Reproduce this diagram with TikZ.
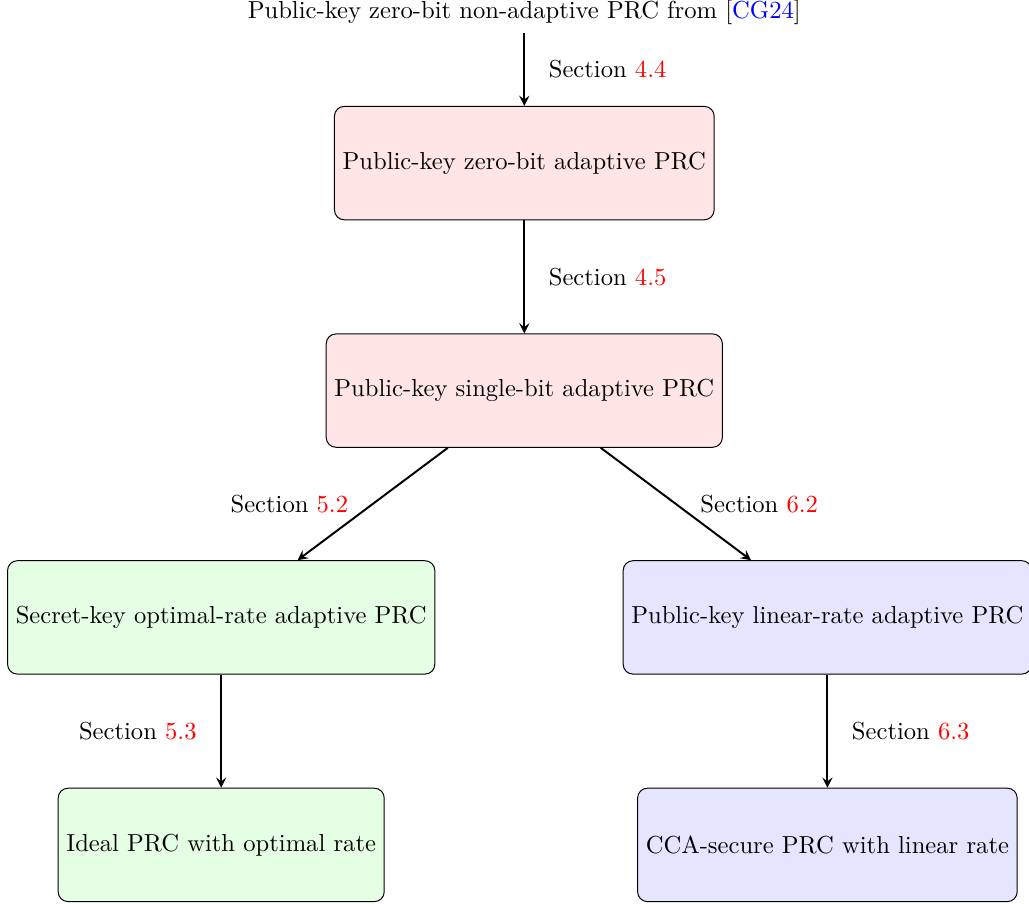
\documentclass[tikz,border=0pt]{standalone}
\usetikzlibrary{arrows,positioning}
\begin{document}
\begin{tikzpicture}[
            pinkbox/.style={rectangle, draw, rounded corners, fill=red!10, minimum height=1.62cm},
            greenbox/.style={rectangle, draw, rounded corners, fill=green!10, minimum height=1.62cm},
            bluebox/.style={rectangle, draw, rounded corners, fill=blue!10, minimum height=1.62cm},
            arr/.style={->, >=stealth, thick},
        ]
            \useasboundingbox (-7.49,-7.33) rectangle (7.21,5.58);
            \node(topnode) at (0,5.41) {Public-key zero-bit non-adaptive PRC from [\textcolor{blue}{CG24}]};
            \node[pinkbox](zeronode) at (0,3.25) {Public-key zero-bit adaptive PRC};
            \node[pinkbox](singlenode) at (0,0) {Public-key single-bit adaptive PRC};
            \node[greenbox](optnode) at (-4.33,-3.24) {Secret-key optimal-rate adaptive PRC};
            \node[bluebox](linnode) at (4.33,-3.24) {Public-key linear-rate adaptive PRC};
            \node[greenbox](idealnode) at (-4.33,-6.49) {Ideal PRC with optimal rate};
            \node[bluebox](ccanode) at (4.33,-6.49) {CCA-secure PRC with linear rate};
            \draw[arr] (topnode) -- node[right=2.2mm] {Section \textcolor{red}{4.4}} (zeronode);
            \draw[arr] (zeronode) -- node[right=2.2mm] {Section \textcolor{red}{4.5}} (singlenode);
            \draw[arr] (singlenode) -- node[left=2.2mm] {Section \textcolor{red}{5.2}} (optnode);
            \draw[arr] (singlenode) -- node[right=2.2mm] {Section \textcolor{red}{6.2}} (linnode);
            \draw[arr] (optnode) -- node[left=2.2mm] {Section \textcolor{red}{5.3}} (idealnode);
            \draw[arr] (linnode) -- node[right=2.2mm] {Section \textcolor{red}{6.3}} (ccanode);
        \end{tikzpicture}
\end{document}
